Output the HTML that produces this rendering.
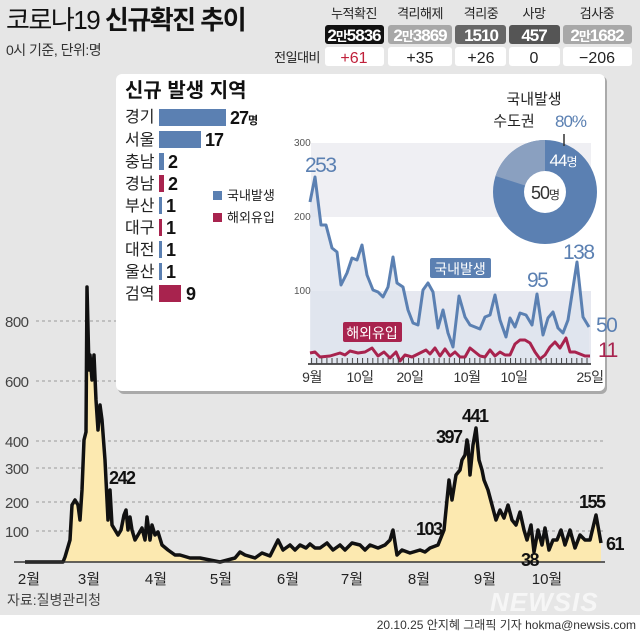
<!DOCTYPE html>
<html><head><meta charset="utf-8"><style>
body{margin:0;width:640px;height:632px;overflow:hidden;background:#e6e6e6}
svg{display:block}
text{font-family:"Liberation Sans","Noto Sans CJK KR",sans-serif}
</style></head><body>
<svg width="640" height="632" viewBox="0 0 640 632" xmlns="http://www.w3.org/2000/svg">
<rect width="640" height="632" fill="#e6e6e6"/>
<rect y="615" width="640" height="17" fill="#fff"/>
<!-- header -->
<text x="6" y="29" font-size="26" fill="#111" letter-spacing="-1.5">코로나19 <tspan font-weight="bold">신규확진 추이</tspan></text>
<text x="6" y="55" font-size="14" fill="#333" letter-spacing="-0.5">0시 기준, 단위:명</text>
<g font-size="13" fill="#222" text-anchor="middle" letter-spacing="-0.5">
<text x="354" y="18">누적확진</text><text x="420" y="18">격리해제</text><text x="481" y="18">격리중</text><text x="534" y="18">사망</text><text x="597" y="18">검사중</text></g>
<rect x="325" y="25" width="59" height="19" rx="3" fill="#111"/>
<rect x="388" y="25" width="64" height="19" rx="3" fill="#a8a8a8"/>
<rect x="455" y="25" width="51" height="19" rx="3" fill="#666"/>
<rect x="509" y="25" width="51" height="19" rx="3" fill="#555"/>
<rect x="563" y="25" width="69" height="19" rx="3" fill="#a8a8a8"/>
<g font-size="17" fill="#fff" text-anchor="middle" font-weight="bold" letter-spacing="-1">
<text x="354" y="41">2<tspan font-size="13">만</tspan>5836</text><text x="420" y="41">2<tspan font-size="13">만</tspan>3869</text><text x="481" y="41">1510</text><text x="534" y="41">457</text><text x="597" y="41">2<tspan font-size="13">만</tspan>1682</text></g>
<text x="320" y="62" font-size="13" fill="#222" text-anchor="end" letter-spacing="-0.5">전일대비</text>
<g fill="#fff"><rect x="325" y="47" width="59" height="19" rx="3"/><rect x="388" y="47" width="64" height="19" rx="3"/><rect x="455" y="47" width="51" height="19" rx="3"/><rect x="509" y="47" width="51" height="19" rx="3"/><rect x="563" y="47" width="69" height="19" rx="3"/></g>
<g font-size="16" text-anchor="middle" fill="#222"><text x="354" y="63" fill="#c0203a">+61</text><text x="420" y="63">+35</text><text x="481" y="63">+26</text><text x="534" y="63">0</text><text x="597" y="63">−206</text></g>

<!-- main chart grid -->
<g stroke="#999" stroke-dasharray="3,3" stroke-width="1">
<line x1="36" x2="605" y1="321" y2="321"/><line x1="36" x2="605" y1="381" y2="381"/><line x1="36" x2="605" y1="441" y2="441"/><line x1="36" x2="605" y1="468" y2="468"/><line x1="36" x2="605" y1="502" y2="502"/><line x1="36" x2="605" y1="531" y2="531"/></g>
<g font-size="15" fill="#444" letter-spacing="-0.5"><text x="5" y="327">800</text><text x="5" y="387">600</text><text x="5" y="447">400</text><text x="5" y="474">300</text><text x="5" y="508">200</text><text x="5" y="537">100</text></g>
<path id="m" d="M25,562 L63,562 65,557 70,540 72,505 75,500 78,505 80,520 82,490 84,440 86,432 87,287 89,370 90,355 92,380 94,355 96,400 98,430 100,405 102,420 105,460 108,520 110,490 112,525 115,530 118,535 121,530 124,515 126,510 128,530 130,517 132,530 135,540 138,535 142,528 145,540 147,517 150,540 152,525 155,535 158,532 162,545 168,550 175,555 180,555 190,558 200,558 220,562 235,558 240,552 245,555 255,558 262,553 270,556 278,540 283,550 290,545 295,550 300,545 306,548 310,544 315,548 320,548 327,543 333,550 340,545 345,550 352,543 360,545 365,550 370,545 378,548 385,545 390,540 393,530 397,555 402,550 410,553 420,550 425,552 430,548 438,545 444,530 446,510 449,480 452,500 456,475 460,470 462,460 465,455 467,440 468,445 470,475 473,445 476,428 479,460 482,470 484,480 486,485 488,490 492,505 496,520 500,510 504,518 508,505 512,520 516,525 520,512 524,530 527,540 531,525 534,552 538,530 542,545 545,528 549,550 553,540 557,540 561,530 565,545 570,530 575,548 580,535 585,540 590,540 596,515 601,543" fill="none"/>
<path d="M25,562 L63,562 65,557 70,540 72,505 75,500 78,505 80,520 82,490 84,440 86,432 87,287 89,370 90,355 92,380 94,355 96,400 98,430 100,405 102,420 105,460 108,520 110,490 112,525 115,530 118,535 121,530 124,515 126,510 128,530 130,517 132,530 135,540 138,535 142,528 145,540 147,517 150,540 152,525 155,535 158,532 162,545 168,550 175,555 180,555 190,558 200,558 220,562 235,558 240,552 245,555 255,558 262,553 270,556 278,540 283,550 290,545 295,550 300,545 306,548 310,544 315,548 320,548 327,543 333,550 340,545 345,550 352,543 360,545 365,550 370,545 378,548 385,545 390,540 393,530 397,555 402,550 410,553 420,550 425,552 430,548 438,545 444,530 446,510 449,480 452,500 456,475 460,470 462,460 465,455 467,440 468,445 470,475 473,445 476,428 479,460 482,470 484,480 486,485 488,490 492,505 496,520 500,510 504,518 508,505 512,520 516,525 520,512 524,530 527,540 531,525 534,552 538,530 542,545 545,528 549,550 553,540 557,540 561,530 565,545 570,530 575,548 580,535 585,540 590,540 596,515 601,543 L601,562 Z" fill="#fce9b0"/>
<use href="#m" stroke="#111" stroke-width="3.5" stroke-linejoin="round"/>
<line x1="14" x2="605" y1="562" y2="562" stroke="#333" stroke-width="1.5"/>
<g font-size="18" font-weight="bold" fill="#111" letter-spacing="-1.5"><text x="109" y="484">242</text><text x="436" y="443">397</text><text x="462" y="422">441</text><text x="416" y="535">103</text><text x="521" y="566">38</text><text x="579" y="508">155</text><text x="606" y="550">61</text></g>
<g font-size="15" fill="#222" text-anchor="middle"><text x="29" y="584">2월</text><text x="89" y="584">3월</text><text x="156" y="584">4월</text><text x="221" y="584">5월</text><text x="288" y="584">6월</text><text x="352" y="584">7월</text><text x="419" y="584">8월</text><text x="485" y="584">9월</text><text x="547" y="584">10월</text></g>
<text x="7" y="605" font-size="14" fill="#444">자료:질병관리청</text>
<text x="490" y="611" font-size="26" font-weight="bold" font-style="italic" fill="#f6f6f6" letter-spacing="1">NEWSIS</text>
<text x="636" y="629" font-size="12" fill="#333" text-anchor="end">20.10.25 안지혜 그래픽 기자 hokma@newsis.com</text>

<!-- inset -->
<rect x="118" y="76" width="489" height="318" rx="6" fill="#aaa"/>
<rect x="116" y="74" width="489" height="317" rx="6" fill="#fff"/>
<text x="125" y="97" font-size="20" font-weight="bold" fill="#111">신규 발생 지역</text>
<g font-size="16" fill="#222"><text x="125" y="122">경기</text><text x="125" y="145">서울</text><text x="125" y="167">충남</text><text x="125" y="189">경남</text><text x="125" y="211">부산</text><text x="125" y="233">대구</text><text x="125" y="255">대전</text><text x="125" y="277">울산</text><text x="125" y="299">검역</text></g>
<g fill="#5b80b2"><rect x="159" y="109" width="67" height="17"/><rect x="159" y="131" width="42" height="17"/><rect x="159" y="153" width="5" height="17"/><rect x="159" y="197" width="3" height="17"/><rect x="159" y="241" width="3" height="17"/><rect x="159" y="263" width="3" height="17"/></g>
<g fill="#a8234e"><rect x="159" y="175" width="5" height="17"/><rect x="159" y="219" width="3" height="17"/><rect x="159" y="285" width="22" height="17"/></g>
<g font-size="18" font-weight="bold" fill="#111" letter-spacing="-1"><text x="230" y="124">27<tspan font-size="11">명</tspan></text><text x="205" y="146">17</text><text x="168" y="168">2</text><text x="168" y="190">2</text><text x="166" y="212">1</text><text x="166" y="234">1</text><text x="166" y="256">1</text><text x="166" y="278">1</text><text x="186" y="300">9</text></g>
<rect x="213" y="191" width="9" height="9" fill="#5b80b2"/><text x="227" y="200" font-size="13" fill="#222">국내발생</text>
<rect x="213" y="213" width="9" height="9" fill="#a8234e"/><text x="227" y="222" font-size="13" fill="#222">해외유입</text>
<!-- small chart -->
<rect x="311" y="143" width="280" height="74" fill="#efeff3"/>
<rect x="311" y="291" width="280" height="73" fill="#e6e8f0"/>
<path d="M310,202 315,177 321,225 326,225 332,248 337,252 341,285 347,273 352,258 357,260 362,245 367,275 373,290 378,292 383,297 388,287 393,257 397,283 403,287 408,310 413,323 418,325 423,290 428,283 433,292 438,328 443,310 448,333 453,347 459,296 465,317 470,325 475,327 480,329 485,317 490,315 495,295 500,320 506,337 510,318 515,327 520,313 526,315 532,325 537,294 543,335 548,318 553,312 558,328 563,333 568,320 577,262 583,317 589,327 L589,364 310,364Z" fill="#dfe3ee" opacity="0.8"/>
<g font-size="10" fill="#555"><text x="294" y="146">300</text><text x="294" y="220">200</text><text x="294" y="294">100</text></g>
<polyline points="310,202 315,177 321,225 326,225 332,248 337,252 341,285 347,273 352,258 357,260 362,245 367,275 373,290 378,292 383,297 388,287 393,257 397,283 403,287 408,310 413,323 418,325 423,290 428,283 433,292 438,328 443,310 448,333 453,347 459,296 465,317 470,325 475,327 480,329 485,317 490,315 495,295 500,320 506,337 510,318 515,327 520,313 526,315 532,325 537,294 543,335 548,318 553,312 558,328 563,333 568,320 577,262 583,317 589,327" fill="none" stroke="#5b80b2" stroke-width="3" stroke-linejoin="round"/>
<polyline points="310,353 315,352 320,357 330,356 340,353 345,355 350,351 358,353 365,352 372,348 378,356 384,352 390,358 396,352 400,361 405,355 412,357 420,353 426,350 430,354 435,348 440,356 445,349 450,356 455,352 460,357 465,357 470,348 475,352 480,356 485,357 490,350 495,356 500,352 505,355 510,355 515,344 520,340 525,340 530,343 535,352 540,359 545,355 550,347 555,342 560,348 566,338 570,352 575,352 580,354 585,356 590,356" fill="none" stroke="#a8234e" stroke-width="3" stroke-linejoin="round"/>
<line x1="308" x2="591" y1="364" y2="364" stroke="#222" stroke-width="1.5"/>
<rect x="310" y="358" width="281" height="6" fill="url(#tk)"/>
<defs><pattern id="tk" width="5.1" height="6" patternUnits="userSpaceOnUse"><rect width="1" height="6" fill="#444"/></pattern></defs>
<g font-size="14" fill="#333" text-anchor="middle" letter-spacing="-0.5"><text x="312" y="382">9월</text><text x="360" y="382">10일</text><text x="410" y="382">20일</text><text x="467" y="382">10월</text><text x="514" y="382">10일</text><text x="590" y="382">25일</text></g>
<rect x="430" y="258" width="61" height="20" rx="2" fill="#5b80b2"/><text x="460" y="274" font-size="14" fill="#fff" text-anchor="middle">국내발생</text>
<rect x="343" y="322" width="59" height="20" rx="2" fill="#a8234e"/><text x="372" y="338" font-size="14" fill="#fff" text-anchor="middle">해외유입</text>
<g font-size="21" fill="#5b80b2" letter-spacing="-1.5"><text x="305" y="172">253</text><text x="563" y="259">138</text><text x="527" y="287">95</text><text x="596" y="332">50</text></g>
<text x="598" y="357" font-size="21" fill="#a8234e" letter-spacing="-1.5">11</text>
<!-- pie -->
<circle cx="545" cy="192" r="52" fill="#5b80b2"/>
<path d="M545,192 L545,140 A52,52 0 0,0 495.5,176 Z" fill="#8aa0c0"/>
<circle cx="545" cy="192" r="21" fill="#fff"/>
<text x="545" y="199" font-size="18" fill="#333" text-anchor="middle" letter-spacing="-1">50<tspan font-size="12">명</tspan></text>
<text x="563" y="166" font-size="17" fill="#fff" text-anchor="middle" letter-spacing="-1">44<tspan font-size="12">명</tspan></text>
<line x1="564" y1="134" x2="564" y2="146" stroke="#333" stroke-width="1.5"/>
<text x="534" y="104" font-size="15" fill="#222" text-anchor="middle">국내발생</text>
<text x="514" y="126" font-size="15" fill="#222" text-anchor="middle">수도권</text>
<text x="555" y="127" font-size="17" fill="#5b80b2" letter-spacing="-1">80%</text>
</svg>
</body></html>
